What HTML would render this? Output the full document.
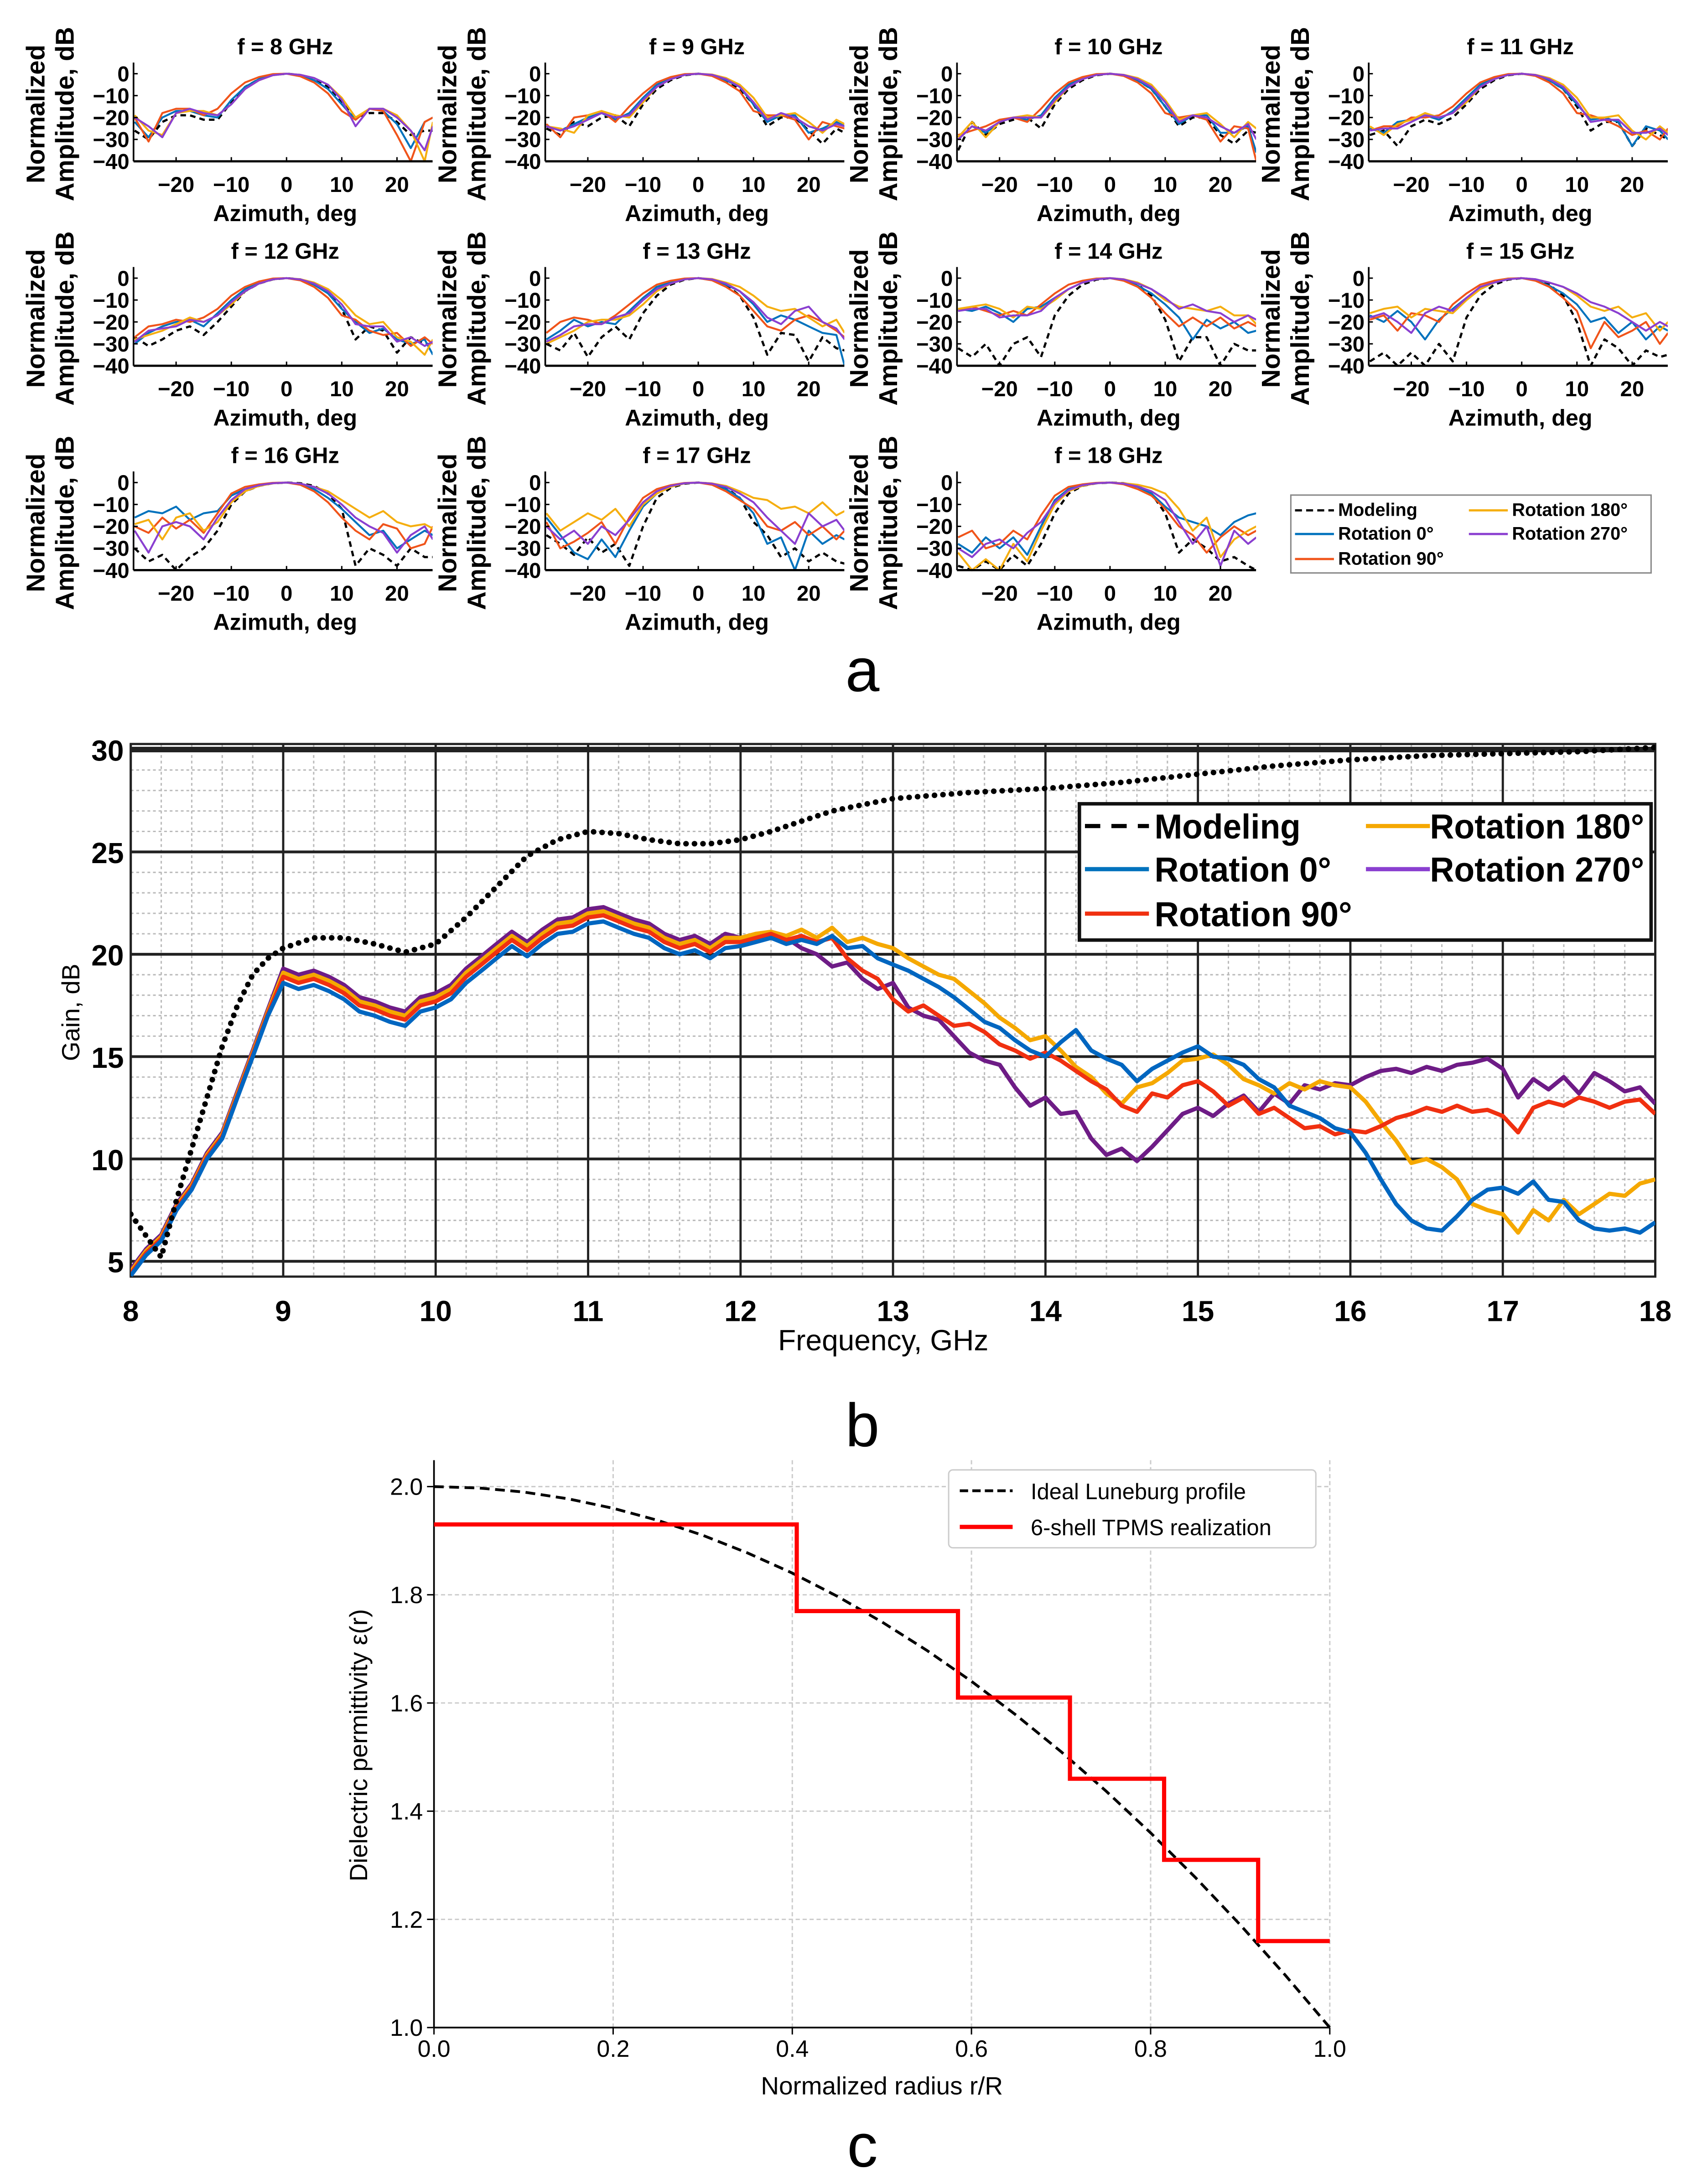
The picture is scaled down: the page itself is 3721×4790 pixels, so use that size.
<!DOCTYPE html>
<html><head><meta charset="utf-8"><style>
html,body{margin:0;padding:0;background:#fff;}
svg{display:block;}
</style></head><body>
<svg id="chart" xmlns="http://www.w3.org/2000/svg" width="3721" height="4790" viewBox="0 0 1220 1570.5"></svg>
<script>
// ---------- Part a data ----------
const azGrid=[-27.5,-25,-22.5,-20,-17.5,-15,-12.5,-10,-7.5,-5,-2.5,0,2.5,5,7.5,10,12.5,15,17.5,20,22.5,25,26.5];
const freqLabels=["f = 8 GHz","f = 9 GHz","f = 10 GHz","f = 11 GHz","f = 12 GHz","f = 13 GHz","f = 14 GHz","f = 15 GHz","f = 16 GHz","f = 17 GHz","f = 18 GHz"];
const ampTicks=[0,-10,-20,-30,-40];
const azTicks=[-20,-10,0,10,20];
const patModeling=[
[-26,-30,-22,-19,-19,-21,-21,-13,-6,-2.5,-0.6,0,-0.6,-2.5,-6,-13,-20,-18,-18,-22,-28,-26,-26],
[-25,-28,-22,-24,-20,-19,-24,-14,-7,-3,-0.7,0,-0.7,-3,-7,-14,-24,-20,-20,-26,-32,-25,-27],
[-35,-22,-28,-23,-21,-20,-25,-14,-7,-3,-0.7,0,-0.7,-3,-7,-15,-24,-20,-20,-28,-32,-26,-27],
[-28,-26,-33,-24,-21,-23,-20,-14,-7,-3,-0.7,0,-0.7,-3,-7,-15,-26,-22,-22,-33,-25,-28,-30],
[-27,-31,-28,-24,-22,-26,-20,-13,-6,-2.5,-0.6,0,-0.6,-2.5,-6,-14,-28,-22,-24,-34,-27,-30,-30],
[-30,-33,-25,-36,-27,-22,-28,-16,-8,-3,-0.7,0,-0.7,-3,-8,-18,-35,-25,-26,-38,-27,-32,-33],
[-32,-36,-30,-40,-30,-27,-36,-17,-8,-3,-0.7,0,-0.7,-3,-8,-19,-38,-27,-27,-40,-30,-33,-33],
[-38,-34,-40,-34,-40,-30,-38,-18,-8,-3,-0.7,0,-0.7,-3,-8,-20,-40,-28,-32,-40,-33,-36,-35],
[-30,-36,-33,-40,-34,-30,-22,-10,-4,-1.5,-0.3,0,-0.3,-1.5,-5,-12,-38,-30,-33,-38,-30,-34,-34],
[-24,-28,-33,-25,-32,-28,-38,-20,-7,-2.5,-0.5,0,-0.5,-2.5,-7,-18,-24,-34,-30,-36,-32,-36,-37],
[-38,-40,-36,-40,-33,-38,-28,-14,-5,-1.5,-0.3,0,-0.3,-1.5,-5,-14,-32,-26,-30,-36,-34,-38,-40]];
const patRot0=[
[-22,-29,-20,-17,-17,-19,-20,-12,-6,-2.5,-0.5,0,-0.8,-3,-7,-14,-21,-16,-17,-23,-34,-22,-20],
[-24,-26,-23,-20,-18,-21,-18,-11,-5,-2,-0.4,0,-0.7,-3,-6,-14,-22,-19,-19,-27,-25,-22,-24],
[-30,-24,-27,-22,-20,-21,-19,-11,-5,-2,-0.4,0,-0.8,-3,-7,-15,-23,-19,-19,-27,-27,-24,-36],
[-25,-27,-22,-21,-19,-21,-17,-11,-5,-2,-0.4,0,-0.8,-3,-7,-14,-21,-20,-22,-33,-24,-26,-30],
[-30,-25,-22,-20,-19,-22,-16,-10,-5,-2,-0.4,0,-0.8,-3,-7,-14,-20,-25,-23,-28,-30,-28,-35],
[-28,-24,-19,-22,-20,-21,-15,-9,-4,-2,-0.4,0,-0.8,-3,-6,-12,-20,-17,-19,-22,-25,-26,-40],
[-14,-15,-13,-16,-20,-14,-13,-9,-5,-2,-0.4,0,-1,-3.5,-7,-12,-18,-28,-19,-23,-20,-25,-24],
[-17,-20,-15,-20,-28,-19,-14,-9,-5,-2,-0.4,0,-1,-3.5,-7,-12,-20,-18,-25,-20,-28,-22,-24],
[-16,-13,-14,-11,-17,-14,-13,-6,-3,-1,-0.2,0,-0.8,-3,-7,-12,-18,-24,-22,-30,-26,-22,-24],
[-16,-24,-32,-35,-26,-34,-22,-11,-5,-2,-0.4,0,-0.8,-3,-7,-14,-28,-25,-40,-22,-28,-24,-26],
[-28,-32,-25,-30,-25,-33,-20,-8,-3,-1,-0.2,0,-0.5,-2,-5,-11,-16,-18,-20,-24,-18,-15,-14]];
const patRot90=[
[-20,-31,-18,-16,-16,-19,-16,-9,-4,-1.5,-0.2,0,-1.2,-4,-9,-17,-21,-16,-17,-28,-40,-22,-20],
[-23,-29,-20,-19,-17,-22,-15,-9,-4,-1.5,-0.2,0,-1,-4,-8,-17,-19,-19,-21,-30,-22,-24,-25],
[-28,-26,-24,-21,-20,-22,-16,-9,-4,-1.5,-0.2,0,-1,-4,-9,-18,-20,-19,-21,-31,-24,-25,-40],
[-26,-24,-24,-20,-20,-19,-15,-9,-4,-1.5,-0.2,0,-1,-4,-9,-18,-19,-21,-24,-28,-26,-30,-25],
[-27,-22,-21,-19,-20,-18,-14,-8,-4,-1.5,-0.2,0,-1,-4,-9,-17,-19,-24,-26,-25,-31,-27,-30],
[-25,-20,-18,-19,-21,-17,-12,-7,-3,-1.2,-0.2,0,-1,-4,-8,-15,-22,-24,-19,-17,-20,-24,-27],
[-15,-13,-15,-17,-15,-17,-12,-7,-3,-1.2,-0.2,0,-1.2,-4,-9,-16,-22,-18,-22,-18,-23,-20,-22],
[-19,-17,-24,-16,-17,-20,-12,-7,-3,-1.2,-0.2,0,-1.2,-4,-9,-15,-32,-20,-27,-24,-20,-30,-25],
[-20,-23,-16,-21,-17,-23,-14,-5,-2,-0.8,-0.1,0,-1,-4,-9,-16,-22,-26,-19,-21,-30,-28,-20],
[-18,-30,-27,-23,-18,-28,-16,-7,-3,-1.2,-0.2,0,-1,-4,-8,-12,-20,-22,-18,-24,-20,-26,-22],
[-25,-22,-30,-28,-22,-26,-15,-6,-2,-0.8,-0.1,0,-0.8,-3,-6,-12,-20,-24,-32,-25,-20,-24,-22]];
const patRot180=[
[-19,-26,-28,-18,-17,-17,-19,-14,-7,-3,-0.7,0,-0.5,-2,-5,-11,-20,-16,-16,-19,-26,-40,-22],
[-24,-25,-27,-19,-17,-19,-20,-13,-6,-2.5,-0.6,0,-0.4,-2,-5,-11,-20,-19,-18,-22,-27,-21,-23],
[-29,-22,-29,-22,-20,-19,-20,-13,-6,-2.5,-0.6,0,-0.5,-2,-5,-12,-21,-19,-18,-23,-29,-22,-25],
[-24,-28,-23,-21,-18,-20,-18,-13,-6,-2.5,-0.6,0,-0.5,-2,-5,-11,-20,-20,-19,-26,-30,-24,-27],
[-28,-26,-24,-21,-18,-20,-17,-12,-6,-2.5,-0.6,0,-0.5,-2,-5,-10,-17,-21,-20,-27,-29,-35,-28],
[-30,-27,-24,-20,-19,-19,-17,-12,-6,-2.5,-0.6,0,-0.4,-2,-4,-8,-13,-15,-14,-18,-22,-19,-25],
[-14,-13,-12,-14,-18,-13,-14,-10,-5,-2,-0.4,0,-0.5,-2,-5,-10,-13,-14,-15,-13,-17,-17,-21],
[-16,-14,-13,-18,-14,-15,-16,-10,-5,-2,-0.4,0,-0.5,-2,-4,-8,-13,-15,-13,-18,-16,-24,-20],
[-19,-17,-26,-16,-14,-22,-18,-9,-4,-1.5,-0.4,0,-0.5,-2,-4,-8,-12,-16,-13,-18,-20,-19,-21],
[-14,-22,-18,-14,-17,-12,-20,-10,-5,-2,-0.4,0,-0.4,-1.5,-4,-7,-8,-12,-11,-14,-9,-15,-13],
[-32,-40,-35,-40,-28,-36,-22,-10,-4,-1.5,-0.3,0,-0.3,-1,-2.5,-5,-12,-22,-16,-34,-26,-22,-20]];
const patRot270=[
[-20,-24,-29,-18,-16,-18,-19,-14,-7,-3,-0.7,0,-0.5,-2,-5,-12,-24,-16,-16,-20,-26,-35,-24],
[-24,-26,-24,-21,-18,-20,-19,-12,-6,-2.5,-0.6,0,-0.5,-2.5,-6,-13,-21,-18,-20,-24,-26,-23,-24],
[-30,-24,-26,-22,-20,-20,-20,-12,-6,-2.5,-0.6,0,-0.6,-2.5,-6,-13,-22,-19,-20,-24,-27,-23,-30],
[-26,-25,-25,-22,-19,-20,-18,-12,-6,-2.5,-0.6,0,-0.6,-2.5,-6,-13,-22,-21,-21,-27,-27,-25,-28],
[-29,-24,-23,-22,-19,-20,-17,-11,-6,-2.5,-0.6,0,-0.6,-2.5,-6,-12,-21,-22,-22,-29,-27,-31,-29],
[-29,-26,-22,-21,-21,-18,-16,-10,-5,-2.5,-0.6,0,-0.6,-2.5,-6,-11,-18,-21,-15,-13,-20,-23,-28],
[-15,-14,-14,-18,-17,-17,-15,-9,-5,-2,-0.5,0,-0.6,-2.5,-5,-9,-14,-12,-15,-16,-20,-17,-19],
[-18,-16,-20,-25,-16,-13,-15,-9,-4,-2,-0.5,0,-0.5,-2,-4,-7,-11,-13,-16,-20,-24,-20,-22],
[-22,-32,-20,-18,-20,-26,-16,-8,-3,-1.2,-0.3,0,-0.5,-2,-5,-10,-16,-20,-23,-32,-24,-20,-26],
[-20,-26,-22,-28,-20,-24,-17,-9,-4,-1.5,-0.3,0,-0.5,-2,-5,-9,-16,-22,-28,-14,-20,-17,-22],
[-30,-34,-28,-26,-30,-23,-18,-9,-3.5,-1.2,-0.3,0,-0.5,-1.8,-4,-8,-18,-28,-20,-38,-22,-28,-25]];

// ---------- Part b data ----------
const gainFreqStart=8, gainFreqStep=0.1;
const modelFreqs=[8,8.2,8.3,8.4,8.5,8.6,8.7,8.8,8.9,9,9.2,9.4,9.6,9.8,10,10.2,10.4,10.6,10.8,11,11.2,11.4,11.6,11.8,12,12.2,12.4,12.6,12.8,13,13.5,14,14.5,15,15.5,16,16.5,17,17.5,18];
const gainModeling=[7.3,5.2,8,10.5,13,15.5,17.5,19,19.8,20.3,20.8,20.8,20.5,20.1,20.5,21.8,23.3,24.8,25.6,26.0,25.9,25.6,25.4,25.4,25.6,26.0,26.5,27.0,27.3,27.6,27.9,28.1,28.4,28.8,29.2,29.5,29.7,29.8,29.9,30.1];
const gainRot0=[4.3,5.3,6.0,7.5,8.5,10.0,11.0,13.0,15.0,17.0,
18.6,18.3,18.5,18.2,17.8,17.2,17.0,16.7,16.5,17.2,
17.4,17.8,18.6,19.2,19.8,20.4,19.9,20.5,21.0,21.1,
21.5,21.6,21.3,21.0,20.8,20.3,20.0,20.2,19.8,20.3,
20.4,20.6,20.8,20.5,20.7,20.5,20.9,20.3,20.4,19.8,
19.5,19.2,18.8,18.4,17.9,17.3,16.7,16.4,15.8,15.3,
15.0,15.7,16.3,15.3,14.9,14.6,13.8,14.4,14.8,15.2,
15.5,15.0,14.9,14.6,13.9,13.5,12.6,12.3,12.0,11.5,
11.3,10.3,9.0,7.8,7.0,6.6,6.5,7.2,8.0,8.5,
8.6,8.3,8.9,8.0,7.9,7.0,6.6,6.5,6.6,6.4,
6.9];
const gainRot90=[4.4,5.4,6.1,7.6,8.6,10.1,11.1,13.1,15.1,17.1,
18.9,18.6,18.8,18.5,18.1,17.5,17.3,17.0,16.8,17.5,
17.7,18.1,18.9,19.5,20.1,20.7,20.2,20.8,21.3,21.4,
21.8,21.9,21.6,21.3,21.1,20.6,20.3,20.5,20.1,20.6,
20.6,20.8,21.0,20.7,20.9,20.6,20.8,19.8,19.2,18.8,
17.8,17.2,17.5,17.0,16.5,16.6,16.2,15.6,15.3,14.9,
15.2,14.8,14.3,13.8,13.4,12.6,12.3,13.2,13.0,13.6,
13.8,13.3,12.6,13.0,12.2,12.5,12.0,11.5,11.6,11.2,
11.4,11.3,11.6,12.0,12.2,12.5,12.3,12.6,12.3,12.4,
12.1,11.3,12.5,12.8,12.6,13.0,12.8,12.5,12.8,12.9,
12.2];
const gainRot180=[4.5,5.5,6.2,7.7,8.7,10.2,11.2,13.2,15.2,17.2,
19.1,18.8,19.0,18.7,18.3,17.7,17.5,17.2,17.0,17.7,
17.9,18.3,19.1,19.7,20.3,20.9,20.4,21.0,21.5,21.6,
22.0,22.1,21.8,21.5,21.3,20.8,20.5,20.7,20.3,20.8,
20.8,21.0,21.1,20.9,21.2,20.8,21.3,20.6,20.8,20.5,
20.3,19.8,19.4,19.0,18.8,18.2,17.6,16.9,16.4,15.8,
16.0,15.3,14.5,14.0,13.2,12.7,13.5,13.7,14.2,14.8,
14.9,15.1,14.6,13.9,13.6,13.2,13.7,13.4,13.8,13.6,
13.5,12.8,11.8,10.9,9.8,10.0,9.6,9.0,7.8,7.5,
7.3,6.4,7.5,7.0,8.0,7.3,7.8,8.3,8.2,8.8,
9.0];
const gainRot270=[4.6,5.6,6.3,7.8,8.8,10.3,11.3,13.3,15.3,17.3,
19.3,19.0,19.2,18.9,18.5,17.9,17.7,17.4,17.2,17.9,
18.1,18.5,19.3,19.9,20.5,21.1,20.6,21.2,21.7,21.8,
22.2,22.3,22.0,21.7,21.5,21.0,20.7,20.9,20.5,21.0,
20.8,20.9,21.1,20.8,20.3,20.0,19.4,19.6,18.8,18.3,
18.6,17.4,17.0,16.8,16.0,15.2,14.8,14.6,13.5,12.6,
13.0,12.2,12.3,11.0,10.2,10.5,9.9,10.6,11.4,12.2,
12.5,12.1,12.7,13.1,12.3,13.2,12.7,13.6,13.4,13.7,
13.6,14.0,14.3,14.4,14.2,14.5,14.3,14.6,14.7,14.9,
14.4,13.0,13.9,13.4,14.0,13.2,14.2,13.8,13.3,13.5,
12.7];
const gainXTicks=[8,9,10,11,12,13,14,15,16,17,18];
const gainYTicks=[5,10,15,20,25,30];

// ---------- Part c data ----------
const shellEdges=[0,0.405,0.585,0.71,0.815,0.92,1.0];
const shellEps=[1.93,1.77,1.61,1.46,1.31,1.16];
const idealR=[0,0.05,0.1,0.15,0.2,0.25,0.3,0.35,0.4,0.45,0.5,0.55,0.6,0.65,0.7,0.75,0.8,0.85,0.9,0.95,1.0];
const idealEps=[2.0,1.9975,1.99,1.9775,1.96,1.9375,1.91,1.8775,1.84,1.7975,1.75,1.6975,1.64,1.5775,1.51,1.4375,1.36,1.2775,1.19,1.0975,1.0];
const epsXTicks=[0,0.2,0.4,0.6,0.8,1.0];
const epsYTicks=[1.0,1.2,1.4,1.6,1.8,2.0];

const NS='http://www.w3.org/2000/svg';
const svg=document.getElementById('chart');
function mk(tag,attrs,parent){const e=document.createElementNS(NS,tag);for(const k in attrs)e.setAttribute(k,attrs[k]);(parent||svg).appendChild(e);return e;}
function txt(s,attrs,parent){const e=mk('text',attrs,parent);e.textContent=s;return e;}
const NARROW='"Liberation Sans Narrow","Liberation Sans",sans-serif';
const SANS='"Liberation Sans","DejaVu Sans",sans-serif';
const COL={m:'#000',b:'#0072BD',o:'#F0541A',y:'#F5AE10',p:'#8A3FD0'};

// ---------- Part a ----------
const seriesA=[[patModeling,COL.m,'modeling',true],[patRot0,COL.b,'rotation-0',false],[patRot90,COL.o,'rotation-90',false],[patRot180,COL.y,'rotation-180',false],[patRot270,COL.p,'rotation-270',false]];
freqLabels.forEach((lab,i)=>{
  const c=i%4, r=Math.floor(i/4);
  const ox=c*296, oy=r*147;
  const g=mk('g',{});
  
  
  const xA=a=>206+ox+a*3.97;
  const yA=v=>53+oy-v*1.575;
  const x0=96+ox,x1=311+ox,yt=45+oy,yb=116+oy;
  const cp=mk('clipPath',{id:'cp'+i},g);
  mk('rect',{x:x0,y:yt,width:x1-x0,height:yb-yt+1},cp);
  const t=txt(lab,{x:205+ox,y:39+oy,'font-family':SANS,'font-weight':'bold','font-size':16,'text-anchor':'middle'},g);
  
  
  const yl=txt('',{transform:`translate(${ox},${82+oy}) rotate(-90)`,'font-family':SANS,'font-weight':'bold','font-size':18.5,'text-anchor':'middle'},g);
  
  
  const ts1=mk('tspan',{x:0,y:32},yl);ts1.textContent='Normalized';
  const ts2=mk('tspan',{x:0,y:53},yl);ts2.textContent='Amplitude, dB';
  seriesA.forEach(([arr,col,nm,dash])=>{
    const pts=azGrid.map((a,k)=>xA(a).toFixed(1)+','+yA(Math.max(-40,arr[i][k])).toFixed(1)).join(' ');
    const pl=mk('polyline',{points:pts,fill:'none',stroke:col,'stroke-width':dash?1.6:1.4,'stroke-dasharray':dash?'4 3':'none','clip-path':`url(#cp${i})`,'stroke-linejoin':'round'},g);
    
    
  });
  mk('line',{x1:x0,y1:yt,x2:x0,y2:yb,stroke:'#000','stroke-width':1.2},g);
  mk('line',{x1:x0,y1:yb,x2:x1,y2:yb,stroke:'#000','stroke-width':1.6},g);
  ampTicks.forEach(v=>{
    mk('line',{x1:x0,y1:yA(v),x2:x0+3,y2:yA(v),stroke:'#000','stroke-width':1},g);
    const tl=txt(v===0?'0':'\u2212'+(-v),{x:x0-3,y:yA(v)+5.5,'font-family':NARROW,'font-weight':'bold','font-size':15.5,'text-anchor':'end'},g);
    
    
  });
  azTicks.forEach(a=>{
    mk('line',{x1:xA(a),y1:yb,x2:xA(a),y2:yb-3,stroke:'#000','stroke-width':1},g);
    const tl=txt(a<0?'\u2212'+(-a):String(a),{x:xA(a),y:138+oy,'font-family':NARROW,'font-weight':'bold','font-size':15.5,'text-anchor':'middle'},g);
    
    
  });
  const xl=txt('Azimuth, deg',{x:205+ox,y:159+oy,'font-family':SANS,'font-weight':'bold','font-size':16.5,'text-anchor':'middle'},g);
  
  
});
// legend a
{
  const g=mk('g',{});
  
  
  mk('rect',{x:928,y:356,width:259,height:56,fill:'#fff',stroke:'#888','stroke-width':1},g);
  const ents=[['Modeling',COL.m,931,962,371,true],['Rotation 0°',COL.b,931,962,388,false],['Rotation 90°',COL.o,931,962,406,false],['Rotation 180°',COL.y,1056,1087,371,false],['Rotation 270°',COL.p,1056,1087,388,false]];
  ents.forEach(([s,c,lx,tx,y,d])=>{
    mk('line',{x1:lx,y1:y-4,x2:lx+28,y2:y-4,stroke:c,'stroke-width':1.6,'stroke-dasharray':d?'5 3':'none'},g);
    const t=txt(s,{x:tx,y:y,'font-family':SANS,'font-size':13,'font-weight':'bold'},g);
    
    
  });
}
function letter(s,y){const t=txt(s,{x:620,y:y,'font-family':SANS,'font-size':44,'text-anchor':'middle'});}
letter('a',497);letter('b',1040);letter('c',1558);

// ---------- Part b ----------
{
  const g=mk('g',{});
  
  
  const xB=f=>94+(f-8)*109.6;
  const yB=v=>539+(30-v)*14.72;
  const L=94,R=1190,T=535,B=918;
  for(let f=8;f<=18.001;f+=0.2){mk('line',{x1:xB(f),y1:T,x2:xB(f),y2:B,stroke:'#bbb','stroke-width':1,'stroke-dasharray':'2 2'},g);}
  for(let v=5;v<=30;v+=1){mk('line',{x1:L,y1:yB(v),x2:R,y2:yB(v),stroke:'#bbb','stroke-width':1,'stroke-dasharray':'2 2'},g);}
  gainXTicks.forEach(f=>{mk('line',{x1:xB(f),y1:T,x2:xB(f),y2:B,stroke:'#222','stroke-width':1.6},g);
    const t=txt(String(f),{x:xB(f),y:950,'font-family':NARROW,'font-size':21,'font-weight':'bold','text-anchor':'middle'},g);
    
    });
  gainYTicks.forEach(v=>{mk('line',{x1:L,y1:yB(v),x2:R,y2:yB(v),stroke:'#222','stroke-width':v===30?4:2},g);
    const t=txt(String(v),{x:89,y:yB(v)+8,'font-family':NARROW,'font-size':21,'font-weight':'bold','text-anchor':'end'},g);
    
    });
  mk('rect',{x:L,y:T,width:R-L,height:B-T,fill:'none',stroke:'#222','stroke-width':1.6},g);
  const cp=mk('clipPath',{id:'cpb'},g);mk('rect',{x:L,y:T-2,width:R-L,height:B-T+2},cp);
  const ser=[[gainRot0,'#0066C0','rotation-0'],[gainRot90,'#F03010','rotation-90'],[gainRot180,'#F5A800','rotation-180'],[gainRot270,'#6E1C86','rotation-270']];
  [3,2,1,0].forEach(k=>{const [arr,c,nm]=ser[k];
    const pts=arr.map((v,j)=>xB(gainFreqStart+j*gainFreqStep).toFixed(1)+','+yB(v).toFixed(1)).join(' ');
    const pl=mk('polyline',{points:pts,fill:'none',stroke:c,'stroke-width':3,'stroke-linejoin':'round','clip-path':'url(#cpb)'},g);
    
    });
  const pts=modelFreqs.map((f,j)=>xB(f).toFixed(1)+','+yB(gainModeling[j]).toFixed(1)).join(' ');
  const pm=mk('polyline',{points:pts,fill:'none',stroke:'#000','stroke-width':4,'stroke-dasharray':'0.1 6','stroke-linecap':'round','clip-path':'url(#cpb)'},g);
  
  
  const yt=txt('Gain, dB',{transform:'translate(57,728) rotate(-90)','font-family':SANS,'font-size':18,'text-anchor':'middle'},g);
  
  
  const xt=txt('Frequency, GHz',{x:635,y:971,'font-family':NARROW,'font-size':21,'text-anchor':'middle'},g);
  
  
  const lg=mk('g',{},g);
  
  
  mk('rect',{x:776,y:578,width:411,height:98,fill:'#fff',stroke:'#111','stroke-width':2.5},lg);
  const ents=[['Modeling','#000',780,830,603,true,105],['Rotation 0°','#0072BD',780,830,634,false,127],['Rotation 90°','#F03010',780,830,666,false,142],['Rotation 180°','#F5A800',982,1028,603,false,154],['Rotation 270°','#8A3FD0',982,1028,634,false,154]];
  ents.forEach(([s,c,lx,tx,y,d,w])=>{
    mk('line',{x1:lx,y1:y-9,x2:lx+46,y2:y-9,stroke:c,'stroke-width':3,'stroke-dasharray':d?'11 8':'none'},lg);
    const t=txt(s,{x:tx,y:y,'font-family':NARROW,'font-size':25,'font-weight':'bold',textLength:w,lengthAdjust:'spacingAndGlyphs'},lg);
    
    
  });
}

// ---------- Part c ----------
{
  const g=mk('g',{});
  
  
  const xC=r=>312+r*644;
  const yC=v=>1458-(v-1)*389;
  epsXTicks.forEach(r=>{mk('line',{x1:xC(r),y1:1050,x2:xC(r),y2:1458,stroke:'#ccc','stroke-width':1,'stroke-dasharray':'3 2'},g);
    mk('line',{x1:xC(r),y1:1458,x2:xC(r),y2:1463,stroke:'#000','stroke-width':1},g);
    const t=txt(r.toFixed(1),{x:xC(r),y:1479,'font-family':SANS,'font-size':17,'text-anchor':'middle'},g);
    
    });
  epsYTicks.forEach(v=>{mk('line',{x1:312,y1:yC(v),x2:956,y2:yC(v),stroke:'#ccc','stroke-width':1,'stroke-dasharray':'3 2'},g);
    mk('line',{x1:307,y1:yC(v),x2:312,y2:yC(v),stroke:'#000','stroke-width':1},g);
    const t=txt(v.toFixed(1),{x:304,y:yC(v)+6,'font-family':SANS,'font-size':17,'text-anchor':'end'},g);
    
    });
  mk('line',{x1:312,y1:1050,x2:312,y2:1458,stroke:'#000','stroke-width':1.2},g);
  mk('line',{x1:312,y1:1458,x2:956,y2:1458,stroke:'#000','stroke-width':1.2},g);
  const ip=idealR.map((r,j)=>xC(r).toFixed(1)+','+yC(idealEps[j]).toFixed(1)).join(' ');
  const il=mk('polyline',{points:ip,fill:'none',stroke:'#000','stroke-width':2,'stroke-dasharray':'7 4'},g);
  
  
  let sp=[];
  shellEps.forEach((e,k)=>{sp.push(xC(shellEdges[k]).toFixed(1)+','+yC(e).toFixed(1));sp.push(xC(shellEdges[k+1]).toFixed(1)+','+yC(e).toFixed(1));});
  const sl=mk('polyline',{points:sp.join(' '),fill:'none',stroke:'#FF0000','stroke-width':3},g);
  
  
  const yt=txt('Dielectric permittivity ε(r)',{transform:'translate(264,1255) rotate(-90)','font-family':SANS,'font-size':18,'text-anchor':'middle'},g);
  
  
  const xt=txt('Normalized radius r/R',{x:634,y:1506,'font-family':SANS,'font-size':18,'text-anchor':'middle'},g);
  
  
  const lg=mk('g',{},g);
  
  
  mk('rect',{x:682,y:1057,width:264,height:56,rx:3,fill:'#fff',stroke:'#ccc','stroke-width':1},lg);
  mk('line',{x1:690,y1:1072,x2:728,y2:1072,stroke:'#000','stroke-width':2,'stroke-dasharray':'6 3'},lg);
  mk('line',{x1:690,y1:1098,x2:728,y2:1098,stroke:'#FF0000','stroke-width':3},lg);
  const t1=txt('Ideal Luneburg profile',{x:741,y:1078,'font-family':SANS,'font-size':16},lg);
  
  
  const t2=txt('6-shell TPMS realization',{x:741,y:1104,'font-family':SANS,'font-size':16},lg);
  
  
}
</script>
</body></html>
